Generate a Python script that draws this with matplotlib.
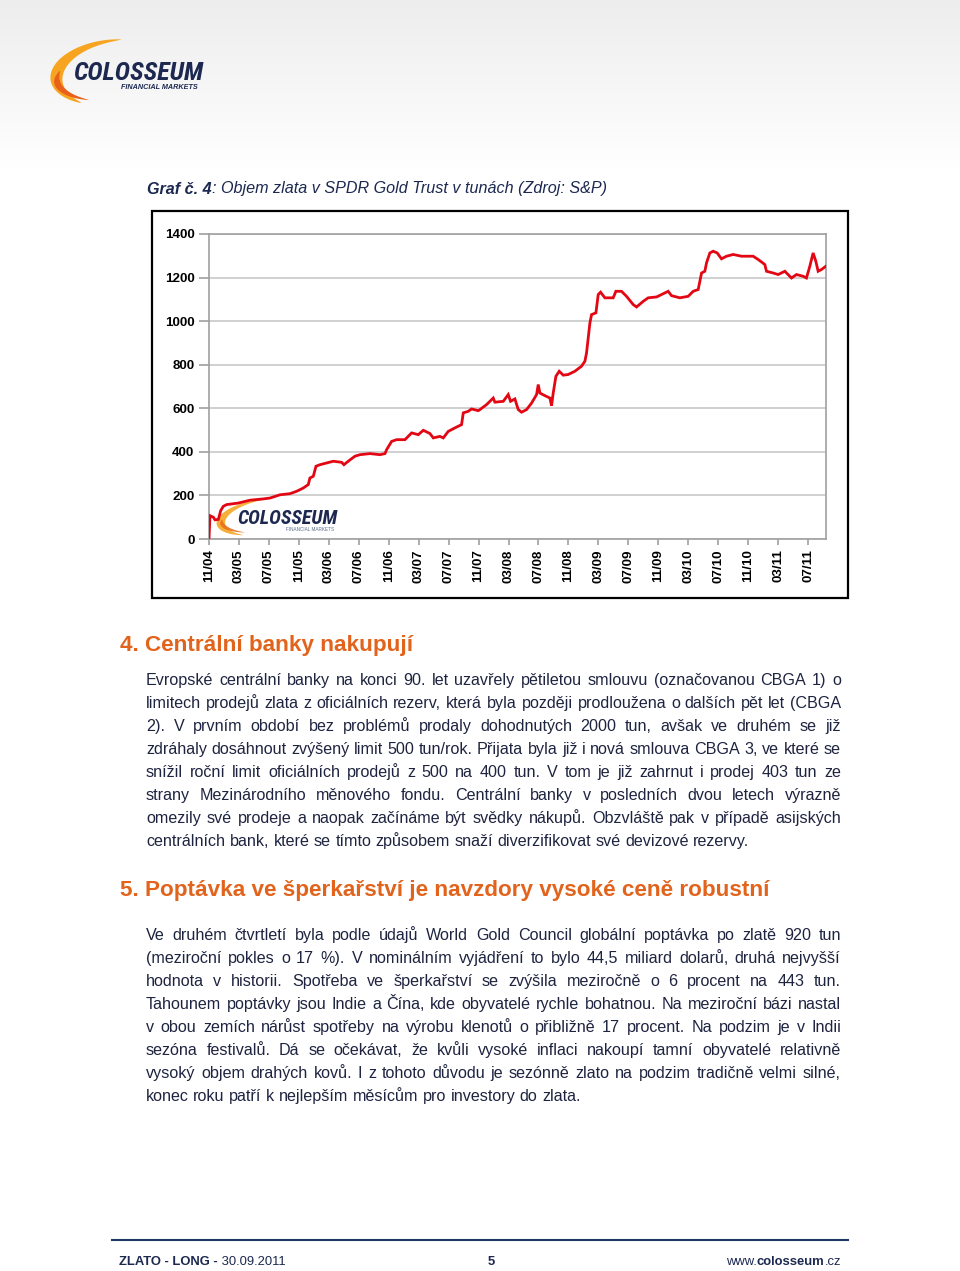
import numpy as np
import matplotlib
matplotlib.use("Agg")
import matplotlib.pyplot as plt
from matplotlib.patches import Polygon, Rectangle
from matplotlib import font_manager

plt.rcParams['font.family'] = ['Liberation Sans', 'DejaVu Sans']

# ---------------- data (months since 11/04, tonnes) ----------------
months = [0.0, 0.13, 0.58, 0.80, 1.25, 1.56, 1.91, 2.36, 3.92, 5.47, 7.25, 8.14,
          9.48, 10.81, 11.70, 12.59, 13.26, 13.48, 13.93, 14.29, 14.82, 15.71,
          16.60, 17.71, 18.02, 18.60, 19.49, 20.16, 21.50, 22.83, 23.50, 23.72,
          24.39, 25.06, 26.17, 27.06, 27.95, 28.62, 29.51, 29.95, 30.84, 31.29,
          31.95, 32.84, 33.73, 33.96, 34.62, 35.07, 35.96,
          36.18, 37.07, 37.96, 38.18, 39.30, 39.96, 40.27, 40.85, 41.30, 41.74,
          42.41, 43.08, 43.75, 43.97, 44.19, 44.86, 45.53, 45.75, 45.97, 46.33,
          46.77, 47.31, 47.97, 48.86, 49.75, 50.20, 50.42, 50.87, 51.09, 51.67,
          51.98, 52.29, 52.87, 53.98, 54.34, 55.09, 55.76, 56.65, 57.10, 57.99,
          58.65, 59.77, 60.43, 61.32, 61.77, 62.88, 64.00, 64.66, 65.33, 65.78,
          66.22, 66.44, 66.89, 67.33, 67.87, 68.44, 69.11, 70.00, 71.12, 71.78,
          72.67, 73.34, 74.23, 74.45, 75.34, 76.01, 76.90, 77.79, 78.46, 79.35,
          79.79, 80.24, 80.68, 81.04, 81.35, 81.80, 82.38]
tonnes = [0, 107, 100, 88, 90, 130, 150, 158, 165, 178, 184, 188,
          203, 208, 219, 234, 250, 280, 288, 334, 341, 349,
          357, 352, 341, 357, 380, 387, 392, 387, 392, 410,
          448, 456, 456, 487, 479, 499, 484, 464, 471, 464,
          494, 510, 525, 579, 586, 597, 589,
          594, 617, 647, 628, 632, 663, 632, 643, 594, 582,
          594, 624, 663, 709, 670, 658, 647, 612, 670, 747,
          770, 752, 755, 770, 793, 816, 854, 992, 1030, 1038,
          1122, 1133, 1107, 1107, 1137, 1137, 1114, 1076, 1065, 1091,
          1107, 1111, 1122, 1137, 1117, 1107, 1114, 1137, 1145, 1221,
          1229, 1267, 1313, 1321, 1313, 1286, 1298, 1306, 1298, 1298,
          1298, 1283, 1260, 1229, 1221, 1214, 1229, 1198, 1214, 1206,
          1198, 1252, 1313, 1275, 1229, 1237, 1252]
tick_labels = ['11/04', '03/05', '07/05', '11/05', '03/06', '07/06', '11/06',
               '03/07', '07/07', '11/07', '03/08', '07/08', '11/08', '03/09',
               '07/09', '11/09', '03/10', '07/10', '11/10', '03/11', '07/11']
y_ticks = [0, 200, 400, 600, 800, 1000, 1200, 1400]

caption_bold = "Graf č. 4"
caption_rest = ": Objem zlata v SPDR Gold Trust v tunách (Zdroj: S&P)"
heading4 = "4. Centrální banky nakupují"
para4 = [
    "Evropské centrální banky na konci 90. let uzavřely pětiletou smlouvu (označovanou CBGA 1) o",
    "limitech prodejů zlata z oficiálních rezerv, která byla později prodloužena o dalších pět let (CBGA",
    "2). V prvním období bez problémů prodaly dohodnutých 2000 tun, avšak ve druhém se již",
    "zdráhaly dosáhnout zvýšený limit 500 tun/rok. Přijata byla již i nová smlouva CBGA 3, ve které se",
    "snížil roční limit oficiálních prodejů z 500 na 400 tun. V tom je již zahrnut i prodej 403 tun ze",
    "strany Mezinárodního měnového fondu. Centrální banky v posledních dvou letech výrazně",
    "omezily své prodeje a naopak začínáme být svědky nákupů. Obzvláště pak v případě asijských",
    "centrálních bank, které se tímto způsobem snaží diverzifikovat své devizové rezervy.",
]
heading5 = "5. Poptávka ve šperkařství je navzdory vysoké ceně robustní"
para5 = [
    "Ve druhém čtvrtletí byla podle údajů World Gold Council globální poptávka po zlatě 920 tun",
    "(meziroční pokles o 17 %). V nominálním vyjádření to bylo 44,5 miliard dolarů, druhá nejvyšší",
    "hodnota v historii. Spotřeba ve šperkařství se zvýšila meziročně o 6 procent na 443 tun.",
    "Tahounem poptávky jsou Indie a Čína, kde obyvatelé rychle bohatnou. Na meziroční bázi nastal",
    "v obou zemích nárůst spotřeby na výrobu klenotů o přibližně 17 procent. Na podzim je v Indii",
    "sezóna festivalů. Dá se očekávat, že kvůli vysoké inflaci nakoupí tamní obyvatelé relativně",
    "vysoký objem drahých kovů. I z tohoto důvodu je sezónně zlato na podzim tradičně velmi silné,",
    "konec roku patří k nejlepším měsícům pro investory do zlata.",
]

# pick a condensed family for the logo if one is installed
_avail = {f.name for f in font_manager.fontManager.ttflist}
LOGO_FAMILY = 'Liberation Sans'
for cand in ['Liberation Sans Narrow', 'Noto Sans Condensed', 'DejaVu Sans Condensed',
             'Roboto Condensed', 'Open Sans Condensed']:
    if cand in _avail:
        LOGO_FAMILY = cand
        break

# ---------------- figure ----------------
W, H = 960, 1271
fig = plt.figure(figsize=(W / 100, H / 100), dpi=100)
fig.patch.set_facecolor('white')
page = fig.add_axes([0, 0, 1, 1])
page.set_xlim(0, W)
page.set_ylim(H, 0)
page.axis('off')
renderer = fig.canvas.get_renderer()

NAVY = '#1c2850'
TEXT = '#1e2440'
ORANGE = '#e2641c'

# light gray header band
grad = np.linspace(0, 1, 100).reshape(-1, 1)
page.imshow(np.dstack([0.93 + 0.07 * grad] * 3), extent=[0, W, 170, 0],
            aspect='auto', zorder=0)


def swoosh(ax, cx, cy, rx, ry, t0, t1, w, color, tilt=0.0, z=2, alpha=1.0, transform=None):
    t = np.radians(np.linspace(t0, t1, 80))
    frac = np.linspace(0, 1, 80)
    th = w * np.clip(np.sin(np.pi * frac), 0, None) ** 0.7
    ox, oy = rx * np.cos(t), -ry * np.sin(t)
    ix, iy = (rx - th) * np.cos(t), -(ry - th * ry / rx) * np.sin(t)
    xs = np.concatenate([ox, ix[::-1]])
    ys = np.concatenate([oy, iy[::-1]])
    a = np.radians(tilt)
    xr = xs * np.cos(a) - ys * np.sin(a) + cx
    yr = xs * np.sin(a) + ys * np.cos(a) + cy
    p = Polygon(np.column_stack([xr, yr]), closed=True, facecolor=color,
                edgecolor='none', zorder=z, alpha=alpha,
                transform=transform if transform is not None else ax.transData)
    ax.add_patch(p)


def fit_text(ax, x, y, s, target_w, size, transform=None, **kw):
    t = ax.text(x, y, s, fontsize=size,
                transform=transform if transform is not None else ax.transData, **kw)
    w = t.get_window_extent(renderer=renderer).width
    t.set_fontsize(size * target_w / w)
    return t


# top logo
swoosh(page, 108, 72, 58, 32, 72, 238, 13, '#f7a521', tilt=-8, z=2)
swoosh(page, 104, 78, 50, 22, 150, 250, 7, '#e8601a', tilt=-5, z=3)
fit_text(page, 73, 80, "COLOSSEUM", 130, 19, fontweight='bold', style='italic',
         color=NAVY, family=LOGO_FAMILY, va='baseline', ha='left', zorder=4)
page.text(198, 89, "FINANCIAL MARKETS", fontsize=5.2, fontweight='bold', style='italic',
          color=NAVY, va='baseline', ha='right', zorder=4)

# caption
t1 = page.text(147, 193.5, caption_bold, fontsize=11.6, fontweight='bold', style='italic',
               color=NAVY, va='baseline', ha='left')
wb = t1.get_window_extent(renderer=renderer).width
page.text(147 + wb, 193.5, caption_rest, fontsize=11.6, style='italic',
          color=NAVY, va='baseline', ha='left')

# chart frame
page.add_patch(Rectangle((152, 211), 696, 387, facecolor='white', edgecolor='black',
                         lw=1.6, zorder=1))

# ---------------- chart ----------------
ax = fig.add_axes([209 / W, 1 - 539 / H, 617 / W, 305 / H])
ax.set_facecolor('none')
ax.plot(months, tonnes, color='#e30613', lw=2.0, zorder=4, solid_joinstyle='miter')
ax.set_xlim(0, 82.4)
ax.set_ylim(0, 1400)
ax.set_yticks(y_ticks)
ax.set_yticklabels([str(v) for v in y_ticks], fontsize=9.6, fontweight='bold', color='black')
ax.set_xticks(np.arange(0, 4 * len(tick_labels), 4))
ax.set_xticklabels(tick_labels, rotation=90, fontsize=9.6, fontweight='bold', color='black')
ax.tick_params(axis='y', length=7, color='#a0a0a0', width=1.2, pad=3.5)
ax.tick_params(axis='x', length=4, color='#a0a0a0', width=1.2, pad=3.5)
ax.grid(axis='y', color='#c8c8c8', lw=1.2, zorder=0)
for s in ax.spines.values():
    s.set_color('#a0a0a0')
    s.set_linewidth(1.2)

# watermark logo inside chart
swoosh(ax, 258, 517, 42, 17, 75, 245, 9, '#f5a623', tilt=-10, z=2, alpha=0.9,
       transform=page.transData)
swoosh(ax, 256, 520, 36, 12, 160, 250, 5, '#e8701c', tilt=-6, z=2, alpha=0.9,
       transform=page.transData)
fit_text(ax, 237, 524, "COLOSSEUM", 100, 14, transform=page.transData,
         fontweight='bold', style='italic', color=NAVY, family=LOGO_FAMILY,
         va='baseline', ha='left', zorder=3)
ax.text(334, 531, "FINANCIAL MARKETS", fontsize=3.3, color='#5a6a8a',
        transform=page.transData, va='baseline', ha='right', zorder=3)


# ---------------- body text ----------------
def justified(lines, y0, dy, x0=146, x1=841, size=11.6):
    for i, line in enumerate(lines):
        y = y0 + i * dy
        words = line.split(' ')
        ts = [page.text(0, y, w, fontsize=size, color=TEXT, va='baseline', ha='left')
              for w in words]
        widths = [t.get_window_extent(renderer=renderer).width for t in ts]
        if i == len(lines) - 1:
            gap = size * 100 / 72 * 0.278
        else:
            gap = (x1 - x0 - sum(widths)) / (len(words) - 1)
        x = x0
        for t, w in zip(ts, widths):
            t.set_x(x)
            x += w + gap


page.text(120, 651, heading4, fontsize=16.2, fontweight='bold', color=ORANGE,
          va='baseline', ha='left')
justified(para4, 685, 23)
page.text(120, 896, heading5, fontsize=16.2, fontweight='bold', color=ORANGE,
          va='baseline', ha='left')
justified(para5, 940, 23)

# ---------------- footer ----------------
page.plot([112, 848], [1240, 1240], color='#1f3864', lw=1.5)
FS = 9.4
f1 = page.text(119, 1265, "ZLATO - LONG -", fontsize=FS, fontweight='bold', color=NAVY,
               va='baseline', ha='left')
w1 = f1.get_window_extent(renderer=renderer).width
page.text(119 + w1, 1265, " 30.09.2011", fontsize=FS, color=NAVY, va='baseline', ha='left')
page.text(491, 1265, "5", fontsize=FS, fontweight='bold', color=NAVY, va='baseline', ha='center')
r3 = page.text(841, 1265, ".cz", fontsize=FS, color=NAVY, va='baseline', ha='right')
w3 = r3.get_window_extent(renderer=renderer).width
r2 = page.text(841 - w3, 1265, "colosseum", fontsize=FS, fontweight='bold', color=NAVY,
               va='baseline', ha='right')
w2 = r2.get_window_extent(renderer=renderer).width
page.text(841 - w3 - w2, 1265, "www.", fontsize=FS, color=NAVY, va='baseline', ha='right')

fig.savefig('out.png', dpi=100)
